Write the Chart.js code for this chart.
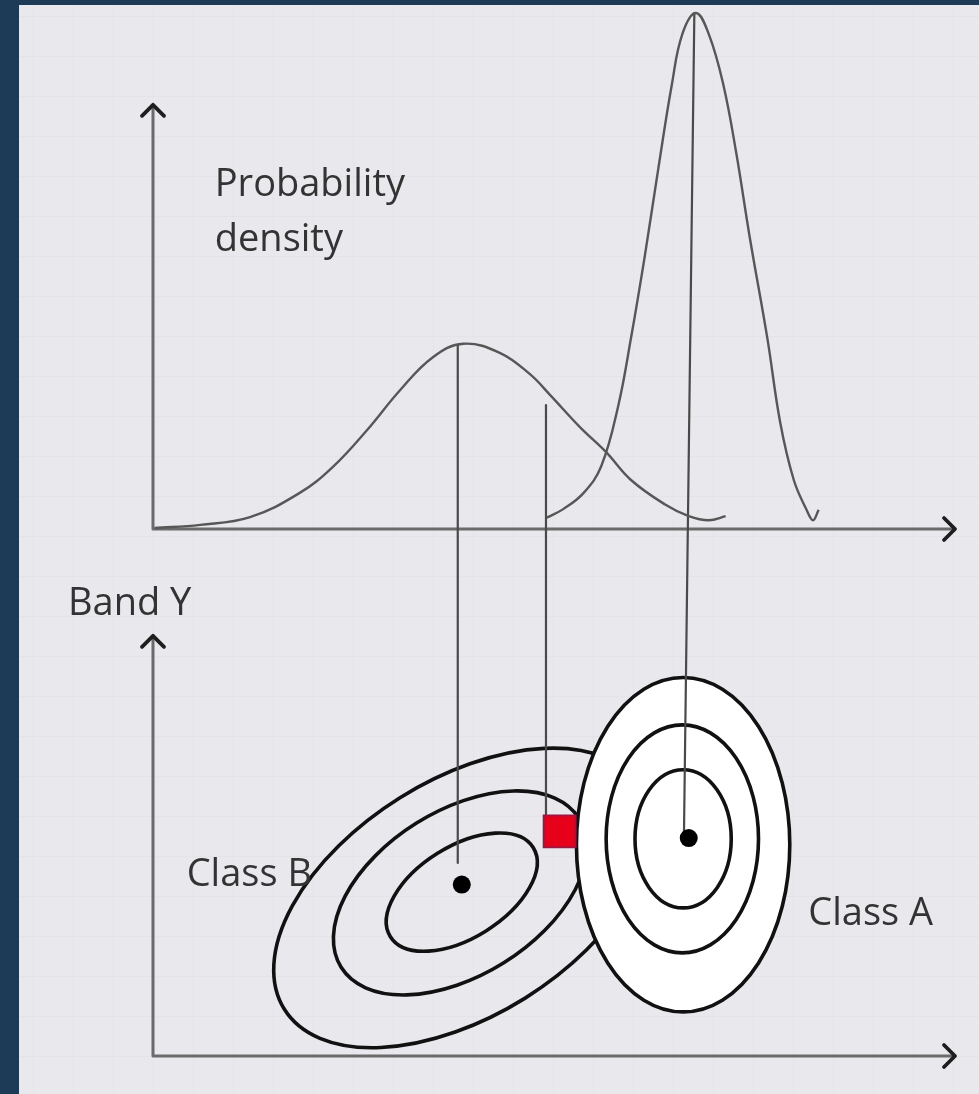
<!DOCTYPE html>
<html>
<head>
<meta charset="utf-8">
<script src="https://cdn.jsdelivr.net/npm/chart.js@4/dist/chart.umd.min.js"></script>
<style>
  html, body { margin: 0; padding: 0; }
  body { width: 979px; height: 1094px; background: #1d3a57; position: relative; overflow: hidden; }
  #paper {
    position: absolute; left: 19px; top: 5px; right: 0; bottom: 0;
    background-color: #e9e9ed;
    background-image:
      linear-gradient(rgba(0,0,0,0.018) 1px, transparent 1px),
      linear-gradient(90deg, rgba(0,0,0,0.014) 1px, transparent 1px);
    background-size: 40px 40px;
    background-position: 0 11px, 14px 0;
  }
  #c { position: absolute; left: 0; top: 0; }
</style>
</head>
<body>
<div id="paper"></div>
<canvas id="c" width="979" height="1094"></canvas>
<script>
// ---------------- data ----------------
// Probability density of Class B (broad curve) along Band X
const curveB_x       = [0.02, 0.59, 1.21, 1.83, 2.24, 2.67, 3.08, 3.49, 3.87, 4.33, 4.70, 4.95, 5.32, 5.65, 5.96, 6.38, 6.68, 6.93, 7.14];
const curveB_density = [0.002, 0.008, 0.023, 0.070, 0.120, 0.192, 0.269, 0.333, 0.359, 0.341, 0.300, 0.260, 0.198, 0.149, 0.095, 0.048, 0.025, 0.017, 0.025];
// Probability density of Class A (narrow curve) along Band X
const curveA_x       = [4.91, 5.12, 5.37, 5.59, 5.80, 5.96, 6.13, 6.30, 6.47, 6.60, 6.77, 6.93, 7.11, 7.27, 7.44, 7.66, 7.82, 7.99, 8.15, 8.23, 8.30];
const curveA_density = [0.022, 0.039, 0.070, 0.122, 0.238, 0.370, 0.527, 0.698, 0.862, 0.959, 1.000, 0.959, 0.862, 0.731, 0.566, 0.370, 0.207, 0.095, 0.037, 0.017, 0.037];

// Class means in (Band X, Band Y)
const classNames  = ['Class B', 'Class A'];
const classMeanX  = [3.85, 6.68];
const classMeanY  = [2.06, 2.62];

// Unknown pixel (red square)
const pixelX = [5.07];
const pixelY = [2.70];

// Equal-probability contours, Class B (tilted)
const contourB_cx = [3.85, 3.83, 3.86];
const contourB_cy = [1.97, 1.96, 1.90];
const contourB_a  = [1.05, 1.75, 2.62];   // semi-major, Band X units
const contourB_b  = [0.55, 0.99, 1.42];   // semi-minor, Band Y units
const contourB_angleDeg = 32;
// Equal-probability contours, Class A (upright), outer first
const contourA_cx = [6.61, 6.60, 6.61];
const contourA_cy = [2.54, 2.61, 2.61];
const contourA_rx = [1.33, 0.95, 0.60];
const contourA_ry = [2.01, 1.37, 0.83];

// Projection lines: from density curve down to the Band X / Band Y plane
const projTopX      = [3.80, 4.90, 6.75];
const projTopDens   = [0.357, 0.240, 1.000];
const projBottomX   = [3.80, 4.90, 6.62];
const projBottomY   = [2.32, 2.88, 2.62];

// Axis extents
const bandXMax   = 10;
const densityTop = 0.822;
const bandYTop   = 5.05;

// ---------------- layout (pixels) ----------------
const W = 979, H = 1094;
const padL = 153, padR = 24, padT = 13, padB = 38;
const areaH = H - padT - padB;
const densityZeroPx = 529;              // where density 0 sits
const densityMax = 1;
const densityMin = densityMax - densityMax * areaH / (densityZeroPx - padT);
const bandYPxPerUnit = 83.2;
const bandYMax = areaH / bandYPxPerUnit;

const toXY = (xs, ys) => xs.map((v, i) => ({ x: v, y: ys[i] }));

const FONT = '38px "Open Sans", "Liberation Sans", sans-serif';
const TEXT_COLOR = '#333333';

const labels = [
  { text: 'Probability', x: 0.77, axis: 'y',  v: 0.646 },
  { text: 'density',     x: 0.77, axis: 'y',  v: 0.539 },
  { text: 'Band Y',      x: -1.06, axis: 'yb', v: 5.30 },
  { text: classNames[0], x: 0.42, axis: 'yb', v: 2.04 },
  { text: classNames[1], x: 8.17, axis: 'yb', v: 1.57 }
];

function arrowHead(ctx, x, y, dir) {
  const s = 11;
  ctx.beginPath();
  if (dir === 'up') {
    ctx.moveTo(x - s, y + s); ctx.lineTo(x, y); ctx.lineTo(x + s, y + s);
  } else {
    ctx.moveTo(x - s, y - s); ctx.lineTo(x, y); ctx.lineTo(x - s, y + s);
  }
  ctx.stroke();
}

const diagram = {
  id: 'diagram',
  beforeDatasetsDraw(chart) {
    const { ctx, scales } = chart;
    const x = scales.x, yd = scales.y, yb = scales.yb;
    const ux = x.getPixelForValue(1) - x.getPixelForValue(0);
    const uy = yb.getPixelForValue(0) - yb.getPixelForValue(1);
    ctx.save();
    ctx.lineCap = 'round';
    ctx.lineJoin = 'round';

    // axes
    const axes = [
      [yd, densityTop], [yb, bandYTop]
    ];
    axes.forEach(([sc, top]) => {
      const x0 = x.getPixelForValue(0), y0 = sc.getPixelForValue(0);
      const yt = sc.getPixelForValue(top), xr = x.getPixelForValue(bandXMax);
      ctx.strokeStyle = '#6b6b6b';
      ctx.lineWidth = 3;
      ctx.beginPath();
      ctx.moveTo(x0, yt + 2); ctx.lineTo(x0, y0); ctx.lineTo(xr - 2, y0);
      ctx.stroke();
      ctx.strokeStyle = '#1e1e1e';
      ctx.lineWidth = 3.8;
      arrowHead(ctx, x0, yt, 'up');
      arrowHead(ctx, xr, y0, 'right');
    });

    // Class B contours
    ctx.strokeStyle = '#111';
    ctx.lineWidth = 3.6;
    const rot = -contourB_angleDeg * Math.PI / 180;
    contourB_cx.forEach((cx, i) => {
      ctx.beginPath();
      ctx.ellipse(x.getPixelForValue(cx), yb.getPixelForValue(contourB_cy[i]),
        contourB_a[i] * ux, contourB_b[i] * uy, rot, 0, Math.PI * 2);
      ctx.stroke();
    });
    // Class A contours (white filled)
    contourA_cx.forEach((cx, i) => {
      ctx.beginPath();
      ctx.ellipse(x.getPixelForValue(cx), yb.getPixelForValue(contourA_cy[i]),
        contourA_rx[i] * ux, contourA_ry[i] * uy, 0, 0, Math.PI * 2);
      ctx.fillStyle = '#ffffff';
      ctx.fill();
      ctx.stroke();
    });

    // projection lines
    ctx.strokeStyle = '#4a4a4a';
    ctx.lineWidth = 2.2;
    projTopX.forEach((tx, i) => {
      ctx.beginPath();
      ctx.moveTo(x.getPixelForValue(tx), yd.getPixelForValue(projTopDens[i]));
      ctx.lineTo(x.getPixelForValue(projBottomX[i]), yb.getPixelForValue(projBottomY[i]));
      ctx.stroke();
    });
    ctx.restore();
  },
  afterDatasetsDraw(chart) {
    const { ctx, scales } = chart;
    ctx.save();
    ctx.font = FONT;
    ctx.fillStyle = TEXT_COLOR;
    ctx.textBaseline = 'alphabetic';
    labels.forEach(l => {
      ctx.fillText(l.text, scales.x.getPixelForValue(l.x), scales[l.axis].getPixelForValue(l.v));
    });
    ctx.restore();
  }
};

new Chart(document.getElementById('c'), {
  type: 'scatter',
  data: {
    datasets: [
      {
        type: 'line', label: 'Class B density', yAxisID: 'y',
        data: toXY(curveB_x, curveB_density),
        borderColor: '#575757', borderWidth: 2.4, pointRadius: 0,
        tension: 0.4, fill: false, clip: false
      },
      {
        type: 'line', label: 'Class A density', yAxisID: 'y',
        data: toXY(curveA_x, curveA_density),
        borderColor: '#575757', borderWidth: 2.4, pointRadius: 0,
        tension: 0.4, fill: false, clip: false
      },
      {
        label: 'Class means', yAxisID: 'yb',
        data: toXY(classMeanX, classMeanY),
        pointRadius: 9, pointBackgroundColor: '#000', pointBorderWidth: 0, clip: false
      },
      {
        label: 'Pixel', yAxisID: 'yb',
        data: toXY(pixelX, pixelY),
        pointStyle: 'rect', pointRadius: 22.5,
        pointBackgroundColor: '#e6001a', pointBorderColor: '#a3143c', pointBorderWidth: 2, clip: false
      }
    ]
  },
  options: {
    responsive: false,
    animation: false,
    devicePixelRatio: 1,
    layout: { autoPadding: false, padding: { left: padL, right: padR, top: padT, bottom: padB } },
    plugins: { legend: { display: false }, tooltip: { enabled: false } },
    events: [],
    scales: {
      x:  { type: 'linear', min: 0, max: bandXMax, display: false },
      y:  { type: 'linear', min: densityMin, max: densityMax, display: false },
      yb: { type: 'linear', min: 0, max: bandYMax, display: false }
    }
  },
  plugins: [diagram]
});
</script>
</body>
</html>
